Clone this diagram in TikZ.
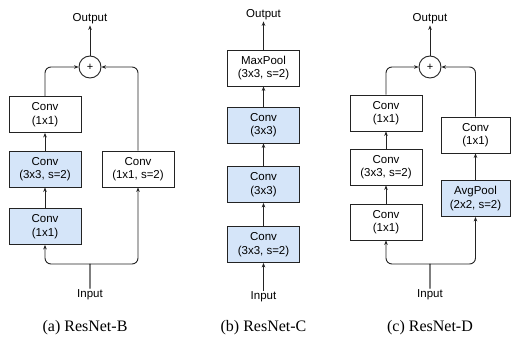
\documentclass[tikz,border=0pt]{standalone}
\usepackage{fontspec}
\setmainfont{Liberation Serif}
\setsansfont{Liberation Sans}
\usetikzlibrary{arrows.meta}
\definecolor{boxblue}{RGB}{213,229,249}
\definecolor{linegray}{RGB}{35,35,35}
\tikzset{
    blk/.style={draw=linegray, fill=white, line width=0.9pt, minimum width=72pt, minimum height=36pt,
        inner sep=0pt, align=center, font=\sffamily\fontsize{11.5}{13.5}\selectfont},
    blu/.style={blk, fill=boxblue},
    addnode/.style={circle, draw=linegray, line width=0.9pt, minimum size=22pt, inner sep=0pt,
        font=\sffamily\fontsize{11}{13}\selectfont},
    lbl/.style={font=\sffamily\fontsize{11.5}{13.5}\selectfont, inner sep=1pt},
    captext/.style={font=\fontsize{16}{18}\selectfont},
    conn/.style={-{Stealth[length=4.5pt,width=3.6pt]}, draw=linegray, line width=0.9pt}
}
\begin{document}
\begin{tikzpicture}[x=1pt, y=-1pt]
    \useasboundingbox (0,0) rectangle (511,339);

    % (a) ResNet-B
    \node[lbl] (outA) at (90,19) {Output};
    \node[addnode] (addA) at (90,67) {+};
    \node[blk] (a1) at (45,114.5) {Conv\\(1x1)};
    \node[blu] (a2) at (45,169) {Conv\\(3x3, s=2)};
    \node[blu] (a3) at (45,226.5) {Conv\\(1x1)};
    \node[blk] (a4) at (138,169) {Conv\\(1x1, s=2)};
    \node[lbl] (inA) at (90,295) {Input};
    \node[captext] (capA) at (85,328) {(a) ResNet-B};
    \coordinate (tipA) at (90,270);

    \draw[conn] (a3) -- (a2);
    \draw[conn] (a2) -- (a1);
    \draw[conn, rounded corners=6pt] (a1.north) -- (a1.north |- addA) -- (addA.west);
    \draw[conn, rounded corners=6pt] (a4.north) -- (a4.north |- addA) -- (addA.east);
    \draw[conn] (addA.north) -- (outA.south);
    \draw[conn, rounded corners=6pt] (inA.north) -- (tipA) .. controls (90,264) .. (83,264) -- (a3.south |- 0,264) -- (a3.south);
    \draw[conn, rounded corners=6pt] (inA.north) -- (tipA) .. controls (90,264) .. (97,264) -- (a4.south |- 0,264) -- (a4.south);

    % (b) ResNet-C
    \node[lbl] (outB) at (263.5,15) {Output};
    \node[blk] (b1) at (263.5,68) {MaxPool\\(3x3, s=2)};
    \node[blu] (b2) at (263.5,125) {Conv\\(3x3)};
    \node[blu] (b3) at (263.5,184.5) {Conv\\(3x3)};
    \node[blu] (b4) at (263.5,244.5) {Conv\\(3x3, s=2)};
    \node[lbl] (inB) at (263.5,297) {Input};
    \node[captext] (capB) at (263.5,328) {(b) ResNet-C};

    \draw[conn] (inB) -- (b4);
    \draw[conn] (b4) -- (b3);
    \draw[conn] (b3) -- (b2);
    \draw[conn] (b2) -- (b1);
    \draw[conn] (b1) -- (outB);

    % (c) ResNet-D
    \node[lbl] (outC) at (430,19) {Output};
    \node[addnode] (addC) at (430,67) {+};
    \node[blk] (c1) at (386,113) {Conv\\(1x1)};
    \node[blk] (c2) at (386,167) {Conv\\(3x3, s=2)};
    \node[blk] (c3) at (386,222) {Conv\\(1x1)};
    \node[blk, minimum width=69pt] (c4) at (475.5,135) {Conv\\(1x1)};
    \node[blu, minimum width=69pt] (c5) at (475.5,198.5) {AvgPool\\(2x2, s=2)};
    \node[lbl] (inC) at (430,295) {Input};
    \node[captext] (capC) at (430,328) {(c) ResNet-D};
    \coordinate (tipC) at (430,270);

    \draw[conn] (c3) -- (c2);
    \draw[conn] (c2) -- (c1);
    \draw[conn] (c5) -- (c4);
    \draw[conn, rounded corners=6pt] (c1.north) -- (c1.north |- addC) -- (addC.west);
    \draw[conn, rounded corners=6pt] (c4.north) -- (c4.north |- addC) -- (addC.east);
    \draw[conn] (addC.north) -- (outC.south);
    \draw[conn, rounded corners=6pt] (inC.north) -- (tipC) .. controls (430,264) .. (423,264) -- (c3.south |- 0,264) -- (c3.south);
    \draw[conn, rounded corners=6pt] (inC.north) -- (tipC) .. controls (430,264) .. (437,264) -- (c5.south |- 0,264) -- (c5.south);
\end{tikzpicture}
\end{document}
